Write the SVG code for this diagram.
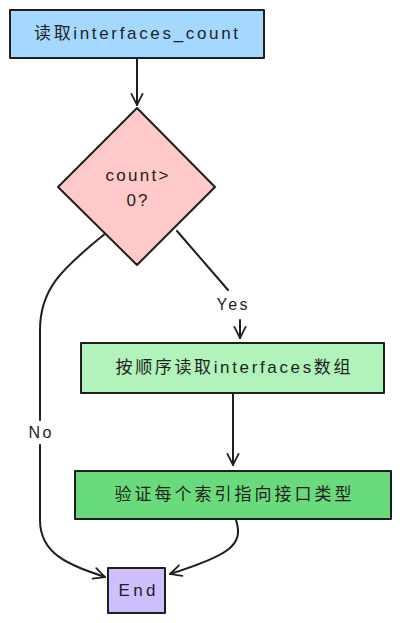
<svg xmlns="http://www.w3.org/2000/svg" width="400" height="623" viewBox="0 0 400 623">
<defs>
<style>
.n{stroke:#1e1e1e;stroke-width:2;stroke-linejoin:round}
.t{font-family:"Liberation Sans","Noto Sans CJK SC",sans-serif;font-size:17px;fill:#1e1e1e;text-anchor:middle;dominant-baseline:central}
.c{fill:none;stroke:#1e1e1e;stroke-width:2;stroke-linecap:round}
.l{font-family:"Liberation Sans",sans-serif;font-size:16px;fill:#1e1e1e;text-anchor:middle;dominant-baseline:central}
</style>
<marker id="ah" viewBox="0 0 20 20" refX="18" refY="10" markerWidth="14" markerHeight="14" markerUnits="userSpaceOnUse" orient="auto">
<path d="M2 2 L18 10 L2 18" fill="none" stroke="#1e1e1e" stroke-width="2.5" stroke-linecap="round"/>
</marker>
</defs>
<rect width="400" height="623" fill="#ffffff"/>
<g id="connectors">
<path class="c" d="M137 59 L137 105" marker-end="url(#ah)"/>
<path class="c" d="M177 231 L228 290"/>
<path class="c" d="M240 320 L240 338" marker-end="url(#ah)"/>
<path class="c" d="M233 393 L233 465" marker-end="url(#ah)"/>
<path class="c" d="M106 233 C60 270 40 290 40 330 L40 420"/>
<path class="c" d="M40 445 L40 520 C40 555 70 565 105 577" marker-end="url(#ah)"/>
<path class="c" d="M236 520 C244 545 230 555 170 574" marker-end="url(#ah)"/>
</g>
<g id="labels">
<text class="l" x="232" y="304" textLength="31">Yes</text>
<text class="l" x="40" y="432" textLength="23">No</text>
</g>
<g id="n1">
<rect class="n" x="10" y="10" width="254" height="48" fill="#a5d8ff"/>
<text class="t" x="136" y="33" textLength="204">读取interfaces_count</text>
</g>
<g id="n2">
<polygon class="n" points="137,108 215,187 137,265 58,187" fill="#ffc9c9"/>
<text class="t" x="137" y="175" textLength="63">count&gt;</text>
<text class="t" x="137" y="200" textLength="21">0?</text>
</g>
<g id="n3">
<rect class="n" x="81" y="343" width="303" height="50" fill="#b2f2bb"/>
<text class="t" x="233" y="367" textLength="235">按顺序读取interfaces数组</text>
</g>
<g id="n4">
<rect class="n" x="75" y="471" width="316" height="48" fill="#69db7c"/>
<text class="t" x="233" y="494" textLength="237">验证每个索引指向接口类型</text>
</g>
<g id="n5">
<rect class="n" x="108" y="568" width="57" height="45" fill="#d0bfff"/>
<text class="t" x="137" y="590" textLength="37">End</text>
</g>
</svg>
